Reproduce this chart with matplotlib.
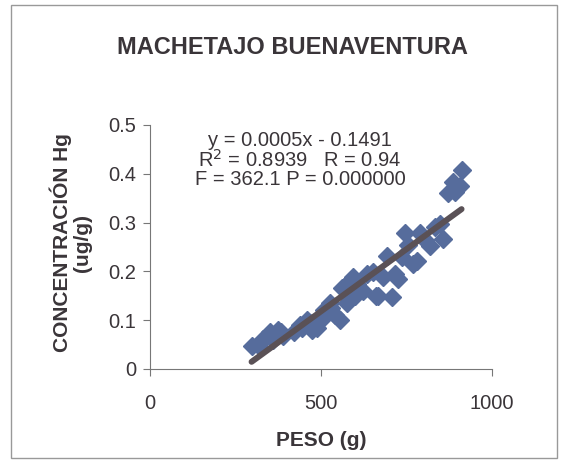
import numpy as np
import matplotlib.pyplot as plt
from matplotlib.patches import Rectangle

plt.rcParams["font.family"] = ["Liberation Sans", "DejaVu Sans"]

# peso (g) vs concentracion Hg (ug/g)
peso = [297, 322, 331, 345, 351, 360, 375, 382, 390, 420,
        438, 445, 460, 468, 475, 487, 500, 510, 526, 530,
        541, 556, 560, 570, 575, 585, 594, 600, 605, 623,
        635, 652, 660, 667, 682, 692, 707, 715, 726, 736,
        746, 755, 770, 780, 789, 805, 819, 833, 848, 857,
        872, 886, 892, 906, 911]
hg = [0.048, 0.045, 0.062, 0.070, 0.076, 0.060, 0.080, 0.075, 0.068, 0.075,
      0.090, 0.085, 0.100, 0.095, 0.080, 0.085, 0.100, 0.120, 0.135, 0.125,
      0.110, 0.100, 0.165, 0.170, 0.135, 0.180, 0.188, 0.150, 0.175, 0.160,
      0.195, 0.198, 0.150, 0.150, 0.188, 0.232, 0.148, 0.195, 0.185, 0.229,
      0.278, 0.255, 0.216, 0.222, 0.278, 0.265, 0.253, 0.290, 0.298, 0.267,
      0.360, 0.383, 0.363, 0.376, 0.407]

x_ticks = [0, 500, 1000]
y_ticks = [0, 0.1, 0.2, 0.3, 0.4, 0.5]
y_tick_labels = ["0", "0.1", "0.2", "0.3", "0.4", "0.5"]

W, H = 566, 462
fig = plt.figure(figsize=(W / 100, H / 100), dpi=100)


def fx(px):
    return px / W


def fy(py):
    return 1 - py / H


ax = fig.add_axes([fx(150), fy(369), fx(492) - fx(150), fy(125) - fy(369)])

text_col = "#3a3539"
pts_col = "#566c9c"
line_col = "#5a5156"

ax.plot(peso, hg, linestyle="none", marker="D", ms=9.5,
        color=pts_col, mec=pts_col, zorder=2)

# linear trendline over the data range
slope, inter = np.polyfit(peso, hg, 1)
xs = np.array([min(peso), max(peso)])
ax.plot(xs, slope * xs + inter, color=line_col, lw=4.3,
        solid_capstyle="round", zorder=3)

ax.set_xlim(0, 1000)
ax.set_ylim(0, 0.5)
ax.set_xticks(x_ticks)
ax.set_yticks(y_ticks)
ax.set_yticklabels(y_tick_labels)
for s in ["top", "right"]:
    ax.spines[s].set_visible(False)
for s in ["left", "bottom"]:
    ax.spines[s].set_color("#777777")
    ax.spines[s].set_linewidth(0.8)
ax.tick_params(colors="#777777", length=5, width=0.8, labelsize=14.5,
               labelcolor=text_col)
ax.tick_params(axis="x", pad=13)
ax.tick_params(axis="y", pad=5)

fig.text(fx(292), fy(48), "MACHETAJO BUENAVENTURA", ha="center",
         va="center", fontsize=17, fontweight="bold", color=text_col)
fig.text(fx(321), fy(440), "PESO (g)", ha="center", va="center",
         fontsize=15, fontweight="bold", color=text_col)
fig.text(fx(71), fy(243), "CONCENTRACIÓN Hg\n(ug/g)", ha="center",
         va="center", rotation=90, fontsize=15, fontweight="bold",
         color=text_col, linespacing=1.05)

eq = "y = 0.0005x - 0.1491\nR$^2$ = 0.8939   R = 0.94\nF = 362.1 P = 0.000000"
fig.text(fx(300), fy(160), eq, ha="center", va="center", fontsize=14.5,
         color=text_col, linespacing=0.95)

fig.patches.append(Rectangle((fx(11), fy(458)), fx(557) - fx(11),
                             fy(5) - fy(458), transform=fig.transFigure,
                             fill=False, edgecolor="#999999", lw=1.0))

fig.savefig("out.png", dpi=100)
